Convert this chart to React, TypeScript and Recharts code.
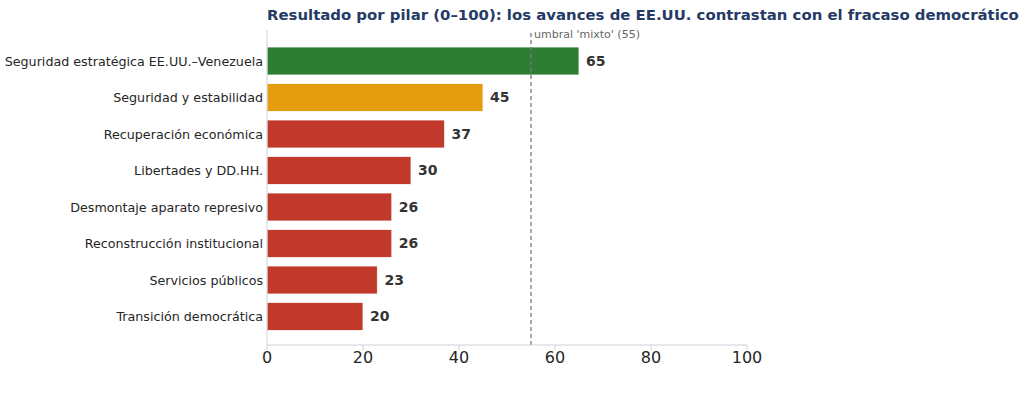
import React from "react";
import { BarChart, Bar, XAxis, YAxis, Cell, LabelList, ReferenceLine } from "recharts";

const pilares = [
  "Seguridad estratégica EE.UU.–Venezuela",
  "Seguridad y estabilidad",
  "Recuperación económica",
  "Libertades y DD.HH.",
  "Desmontaje aparato represivo",
  "Reconstrucción institucional",
  "Servicios públicos",
  "Transición democrática",
];
const puntajes = [65, 45, 37, 30, 26, 26, 23, 20];
const colores = ["#2e7d32", "#e59c0e", "#c0392b", "#c0392b", "#c0392b", "#c0392b", "#c0392b", "#c0392b"];
const xTicks = [0, 20, 40, 60, 80, 100];
const umbral = 55;
const titulo = "Resultado por pilar (0–100): los avances de EE.UU. contrastan con el fracaso democrático";

const data = pilares.map((p, i) => ({ pilar: p, valor: puntajes[i], color: colores[i] }));

const FONT = "DejaVu Sans, sans-serif";

export default function App() {
  return (
    <div style={{ position: "absolute", left: 0, top: 0, width: 1024, height: 401, background: "#fff", fontFamily: FONT }}>
      <div
        style={{
          position: "absolute",
          left: 267,
          top: 6,
          fontSize: 14.9,
          fontWeight: "bold",
          color: "#253a66",
          whiteSpace: "nowrap",
          fontFamily: FONT,
        }}
      >
        {titulo}
      </div>
      <BarChart
        width={1024}
        height={401}
        data={data}
        layout="vertical"
        margin={{ top: 30, right: 277, bottom: 26, left: 0 }}
        barSize={28}
      >
        <XAxis
          type="number"
          domain={[0, 100]}
          ticks={xTicks}
          tick={{ fontSize: 16, fill: "#262626", fontFamily: FONT }}
          axisLine={{ stroke: "#ccd0d8" }}
          tickLine={{ stroke: "#ccd0d8" }}
          tickSize={5}
          height={30}
        />
        <YAxis
          type="category"
          dataKey="pilar"
          width={267}
          padding={{ top: 13, bottom: 10 }}
          tick={{ fontSize: 12.7, fill: "#262626", fontFamily: FONT }}
          axisLine={{ stroke: "#ccd0d8" }}
          tickLine={false}
          tickSize={0}
          tickMargin={4}
          interval={0}
        />
        <ReferenceLine
          x={umbral}
          stroke="#777"
          strokeDasharray="4 3"
          strokeWidth={1.3}
          label={{
            value: "umbral 'mixto' (55)",
            position: "insideTopLeft",
            offset: 0,
            dx: 3,
            dy: 0,
            fontSize: 11,
            fill: "#666",
            fontFamily: FONT,
          }}
        />
        <Bar dataKey="valor" isAnimationActive={false} stroke="#ffffff" strokeWidth={0.8}>
          {data.map((d, i) => (
            <Cell key={i} fill={d.color} />
          ))}
          <LabelList
            dataKey="valor"
            position="right"
            offset={7}
            style={{ fontSize: 14, fontWeight: "bold", fill: "#333", fontFamily: FONT }}
          />
        </Bar>
      </BarChart>
    </div>
  );
}
